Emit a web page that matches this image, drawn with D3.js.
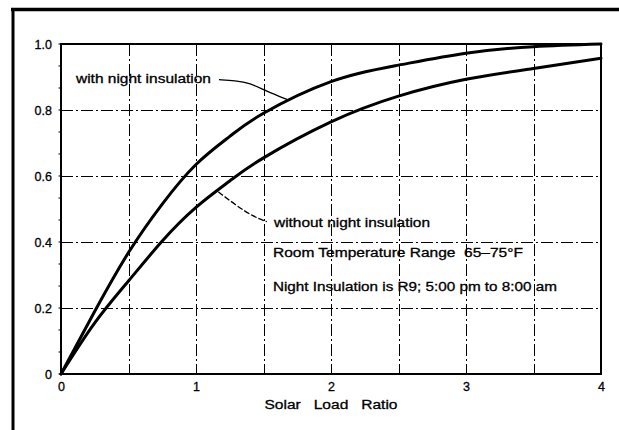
<!DOCTYPE html>
<html>
<head>
<meta charset="utf-8">
<script src="https://cdn.jsdelivr.net/npm/d3@7/dist/d3.min.js"></script>
<style>
  html, body { margin: 0; padding: 0; background: #fff; }
  svg { display: block; }
  text { font-family: "Liberation Sans", Arial, Helvetica, sans-serif; fill: #000; stroke: #000; stroke-width: 0.3px; }
</style>
</head>
<body>
<svg id="chart" width="619" height="430"></svg>
<script>
// ---- data ----
const solarLoadRatio    = [0, 0.25, 0.5, 0.75, 1, 1.25, 1.5, 2, 2.5, 3, 3.5, 4];
const withInsulation    = [0, 0.19, 0.368, 0.515, 0.635, 0.72, 0.79, 0.886, 0.936, 0.972, 0.992, 1.0];
const withoutInsulation = [0, 0.155, 0.282, 0.403, 0.505, 0.585, 0.655, 0.764, 0.842, 0.893, 0.926, 0.957];
const xTickValues = [0, 1, 2, 3, 4];
const xTickLabels = ["0", "1", "2", "3", "4"];
const yTickValues = [0, 0.2, 0.4, 0.6, 0.8, 1.0];
const yTickLabels = ["0", "0.2", "0.4", "0.6", "0.8", "1.0"];
const xGridValues = [0.5, 1, 1.5, 2, 2.5, 3, 3.5];
const yGridValues = [0.2, 0.4, 0.6, 0.8];
const xTitle = "Solar\u00a0\u00a0\u00a0Load\u00a0\u00a0\u00a0Ratio";
const labelWith = "with night insulation";
const labelWithout = "without night insulation";
const noteRange = "Room Temperature Range\u00a0\u00a065\u201375\u00b0F";
const noteInsulation = "Night Insulation is R9; 5:00 pm to 8:00 am";

// ---- layout ----
const svg = d3.select("#chart");
svg.append("rect").attr("width", 619).attr("height", 430).attr("fill", "#fff");

const x = d3.scaleLinear().domain([0, 4]).range([61, 601]);
const y = d3.scaleLinear().domain([0, 1]).range([374, 44]);

// outer frame (top & left heavy rules)
svg.append("line").attr("x1", 11).attr("x2", 619).attr("y1", 9.5).attr("y2", 9.5)
  .attr("stroke", "#000").attr("stroke-width", 3.5);
svg.append("line").attr("x1", 13).attr("x2", 13).attr("y1", 8).attr("y2", 430)
  .attr("stroke", "#000").attr("stroke-width", 3);

// grid
const grid = svg.append("g").attr("stroke", "#000").attr("stroke-width", 1)
  .attr("stroke-dasharray", "12,3,2,3");
grid.selectAll(".gx").data(xGridValues).join("line")
  .attr("x1", d => Math.round(x(d)) + 0.5).attr("x2", d => Math.round(x(d)) + 0.5)
  .attr("y1", y(1)).attr("y2", y(0));
grid.selectAll(".gy").data(yGridValues).join("line")
  .attr("x1", x(0)).attr("x2", x(4))
  .attr("y1", d => Math.round(y(d)) + 0.5).attr("y2", d => Math.round(y(d)) + 0.5);

// plot frame
svg.append("rect").attr("x", x(0)).attr("y", y(1))
  .attr("width", x(4) - x(0)).attr("height", y(0) - y(1))
  .attr("fill", "none").attr("stroke", "#000").attr("stroke-width", 2);

// axes (labels only, through d3 axes)
const xAxis = svg.append("g").attr("transform", `translate(0,${y(0)})`)
  .call(d3.axisBottom(x).tickValues(xTickValues)
    .tickFormat((d, i) => xTickLabels[i]).tickSize(0).tickPadding(8));
const yAxis = svg.append("g").attr("transform", `translate(${x(0)},0)`)
  .call(d3.axisLeft(y).tickValues(yTickValues)
    .tickFormat((d, i) => yTickLabels[i]).tickSize(0).tickPadding(9));
[xAxis, yAxis].forEach(a => {
  a.select(".domain").remove();
  a.selectAll("text").attr("font-size", 12.5)
    .attr("font-family", '"Liberation Sans", Arial, sans-serif').attr("fill", "#000");
});

// small minor ticks on the left axis
svg.append("g").selectAll("line").data(d3.range(0, 1.0001, 0.2 / 3)).join("line")
  .attr("x1", x(0) - 2.5).attr("x2", x(0)).attr("y1", d => y(d)).attr("y2", d => y(d))
  .attr("stroke", "#000").attr("stroke-width", 1);

// curves
const line = d3.line().x(d => x(d[0])).y(d => y(d[1])).curve(d3.curveNatural);
const seriesWith = solarLoadRatio.map((v, i) => [v, withInsulation[i]]);
const seriesWithout = solarLoadRatio.map((v, i) => [v, withoutInsulation[i]]);
[seriesWith, seriesWithout].forEach(s => {
  svg.append("path").datum(s).attr("d", line)
    .attr("fill", "none").attr("stroke", "#000").attr("stroke-width", 3)
    .attr("stroke-linecap", "round");
});

// annotations
const ann = svg.append("g").attr("font-size", 12.5);
function label(txt, xv, yv, len) {
  ann.append("text").attr("x", x(xv)).attr("y", y(yv)).text(txt)
    .attr("textLength", len).attr("lengthAdjust", "spacingAndGlyphs");
}
label(labelWith, 0.111, 0.882, 135);
label(labelWithout, 1.578, 0.445, 156);
label(noteRange, 1.570, 0.3545, 250);
label(noteInsulation, 1.570, 0.2515, 284);

// leader lines
const leader = d3.line().x(d => x(d[0])).y(d => y(d[1])).curve(d3.curveBasis);
svg.append("path")
  .datum([[1.170, 0.892], [1.290, 0.889], [1.40, 0.882], [1.52, 0.857], [1.674, 0.832]])
  .attr("d", leader).attr("fill", "none").attr("stroke", "#000").attr("stroke-width", 1.3);
svg.append("path")
  .datum([[1.165, 0.552], [1.30, 0.51], [1.42, 0.478], [1.525, 0.4615]])
  .attr("d", leader).attr("fill", "none").attr("stroke", "#000").attr("stroke-width", 1.3)
  .attr("stroke-dasharray", "6,2");

// x title
svg.append("text").attr("x", x(2)).attr("y", 409).attr("font-size", 12.5)
  .attr("text-anchor", "middle").attr("textLength", 133)
  .attr("lengthAdjust", "spacingAndGlyphs").text(xTitle);
</script>
</body>
</html>
